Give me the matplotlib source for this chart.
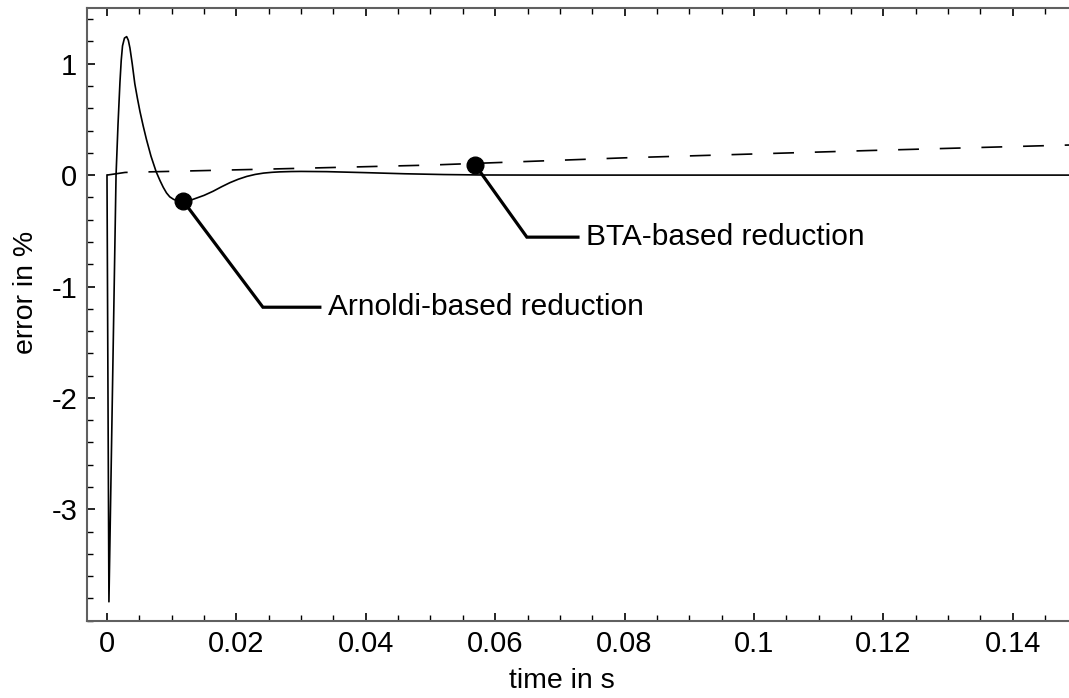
import matplotlib
matplotlib.use("Agg")
import matplotlib.pyplot as plt
from matplotlib.ticker import MultipleLocator, FuncFormatter

plt.rcParams['font.family'] = ['Liberation Sans', 'DejaVu Sans']

# Arnoldi-based reduction error (solid)
t_arnoldi = [0.0, 0.0003, 0.0014, 0.0017, 0.0020, 0.0022, 0.0024, 0.0027, 0.00304,
             0.0033, 0.00355, 0.0039, 0.0043, 0.0047, 0.0051, 0.0056, 0.0061,
             0.0068, 0.0076, 0.0082, 0.0087, 0.0092, 0.0097, 0.0103, 0.0108,
             0.0118, 0.0128, 0.0139, 0.0150, 0.0164, 0.0177, 0.0190, 0.0203,
             0.0216, 0.0229, 0.0242, 0.0255, 0.0267, 0.0285, 0.0300, 0.0340,
             0.0400, 0.0460, 0.0520, 0.0580, 0.0700, 0.0900, 0.1100, 0.1300, 0.1487]
e_arnoldi = [0.0, -3.83, 0.0, 0.45, 0.83, 1.03, 1.16, 1.23, 1.243,
             1.21, 1.14, 1.00, 0.82, 0.69, 0.57, 0.44, 0.32,
             0.17, 0.03, -0.05, -0.11, -0.16, -0.195, -0.218, -0.228,
             -0.234, -0.228, -0.205, -0.182, -0.145, -0.105, -0.068, -0.037,
             -0.012, 0.006, 0.018, 0.025, 0.029, 0.032, 0.033, 0.031,
             0.022, 0.012, 0.005, 0.001, 0.0, 0.0, 0.0, 0.0, 0.0]

# BTA-based reduction error (dashed)
t_bta = [0.0, 0.0028, 0.0257, 0.0500, 0.0800, 0.1175, 0.1487]
e_bta = [0.0, 0.024, 0.055, 0.09, 0.155, 0.22, 0.27]

# annotations: marker point, elbow, end of leader, label
ann_labels = ["Arnoldi-based reduction", "BTA-based reduction"]
ann_point = [(0.0118, -0.234), (0.0569, 0.093)]
ann_elbow = [(0.0241, -1.186), (0.0649, -0.557)]
ann_end = [(0.0329, -1.186), (0.0728, -0.557)]

xticks = [0, 0.02, 0.04, 0.06, 0.08, 0.1, 0.12, 0.14]
yticks = [-3, -2, -1, 0, 1]

fig = plt.figure(figsize=(10.69, 6.98), dpi=100)
ax = fig.add_axes([87 / 1069, 1 - 620.7 / 698, 1 - 87 / 1069, (620.7 - 8) / 698])

ax.plot(t_arnoldi, e_arnoldi, color='black', lw=1.2, solid_joinstyle='round')
ax.plot(t_bta, e_bta, color='black', lw=1.2, dashes=(12.5, 12.5))

for lab, p, el, en in zip(ann_labels, ann_point, ann_elbow, ann_end):
    ax.plot([p[0], el[0], en[0]], [p[1], el[1], en[1]], color='black', lw=2.3,
            solid_joinstyle='miter', zorder=4)
    ax.plot([p[0]], [p[1]], 'o', color='black', ms=12, zorder=5)
    ax.text(en[0] + 0.0013, en[1], lab, fontsize=21.5, va='center', ha='left')

ax.set_xlim(-0.00309, 0.1487)
ax.set_ylim(-4.0, 1.5)
ax.set_xticks(xticks)
ax.set_yticks(yticks)
ax.xaxis.set_minor_locator(MultipleLocator(0.005))
ax.yaxis.set_minor_locator(MultipleLocator(0.2))
ax.xaxis.set_major_formatter(FuncFormatter(lambda v, p: ('%g' % v)))
ax.yaxis.set_major_formatter(FuncFormatter(lambda v, p: ('%d' % v)))

spine_col = '#606060'
for s in ['left', 'bottom', 'top']:
    ax.spines[s].set_color(spine_col)
    ax.spines[s].set_linewidth(1.5)
ax.spines['right'].set_visible(False)

ax.tick_params(axis='both', which='both', direction='in', top=True, right=False,
               color='black', labelsize=21)
ax.tick_params(which='major', length=6, width=1.2, pad=7)
ax.tick_params(which='minor', length=4, width=1.0)

ax.set_xlabel('time in s', fontsize=20.5)
ax.set_ylabel('error in %', fontsize=20.5)
ax.xaxis.set_label_coords(0.484, -0.077)
ax.yaxis.set_label_coords(-0.049, 0.535)

fig.savefig('out.png', dpi=100)
